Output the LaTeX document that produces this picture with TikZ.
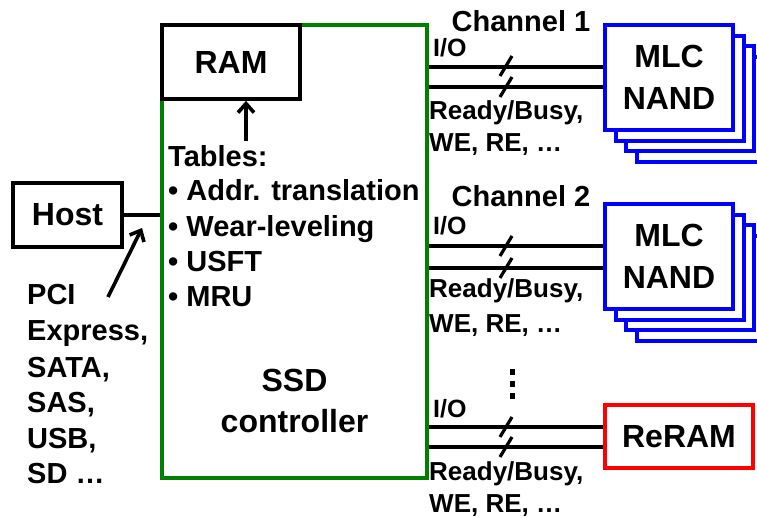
\documentclass[tikz,border=0pt]{standalone}
\usepackage{fontspec}
\setmainfont{Liberation Sans}
\usetikzlibrary{arrows.meta}
\definecolor{ssdgreen}{RGB}{0,128,0}
\definecolor{nandblue}{RGB}{0,0,255}
\definecolor{reramred}{RGB}{255,0,0}
\newcommand\bigfont{\fontsize{32}{41}\selectfont\bfseries}
\newcommand\nandfont{\fontsize{32}{42}\selectfont\bfseries}
\newcommand\midfont{\fontsize{29}{35}\selectfont\bfseries}
\newcommand\iofont{\fontsize{25}{32}\selectfont\bfseries}
\newcommand\sigfont{\fontsize{26}{32}\selectfont\bfseries}
\begin{document}
\begin{tikzpicture}[x=1pt,y=-1pt,
  box/.style={draw, line width=3.8pt, fill=white, inner sep=0pt, align=center},
  txt/.style={inner sep=0pt, anchor=base west},
  wire/.style={line width=3.8pt},
  arr/.style={line width=3.6pt, -{Straight Barb[length=9pt,width=16pt,line width=3.6pt]}},
  busmark/.pic={\draw[line width=3.2pt] (-6,10) -- (6,-10);},
  chip/.style={box, draw=nandblue, line width=4pt, minimum width=128, minimum height=105, font=\nandfont}]
\clip (0,0) rectangle (757,518);
\fill[white] (0,0) rectangle (757,518);

% controller and its RAM
\node[draw=ssdgreen, line width=3.3pt, minimum width=265, minimum height=453, inner sep=0pt] (ssd) at (294.5,251.5) {};
\node[box, minimum width=138, minimum height=74, font=\bigfont] (ram) at (231,62) {RAM};
\node[font=\bigfont, align=center, inner sep=0pt] (ssdlbl) at (294.5,401) {SSD\\controller};

% tables kept in RAM
\node[txt, font=\midfont] (tbl) at (168,167) {Tables:};
\node[txt, font=\midfont] (t1) at (168,201) {• Addr. translation};
\node[txt, font=\midfont] (t2) at (168,237) {• Wear-leveling};
\node[txt, font=\midfont] (t3) at (168,272) {• USFT};
\node[txt, font=\midfont] (t4) at (168,307) {• MRU};
\coordinate (tbltop) at (246,141);
\draw[arr] (tbltop) -- (tbltop |- ram.south);

% host side
\node[box, minimum width=109, minimum height=64, font=\bigfont] (host) at (67.5,215) {Host};
\draw[wire] (host.east) -- (ssd.west |- host.east);
\node[txt, font=\midfont] (if1) at (27,305) {PCI};
\node[txt, font=\midfont] (if2) at (27,340) {Express,};
\node[txt, font=\midfont] (if3) at (27,377) {SATA,};
\node[txt, font=\midfont] (if4) at (27,412) {SAS,};
\node[txt, font=\midfont] (if5) at (27,448) {USB,};
\node[txt, font=\midfont] (if6) at (27,483) {SD …};
\coordinate (iftail) at (108,297);
\coordinate (ifhead) at (142,228);
\draw[arr] (iftail) -- (ifhead);

% channel 1: stacked MLC NAND dies
\foreach \o in {32,21,11} {
  \node[chip] at (669+\o,77.5+\o) {};
}
\node[chip] (nand1) at (669,77.5) {MLC\\NAND};
\node[font=\midfont, inner sep=0pt, anchor=base] (ch1) at (521,32) {Channel 1};
\node[txt, font=\iofont] (io1) at (433,57) {I/O};
\draw[wire] (ssd.east |- 0,67) -- (nand1.west |- 0,67);
\draw[wire] (ssd.east |- 0,87) -- (nand1.west |- 0,87);
\pic at (506,66) {busmark};
\pic at (506,87) {busmark};
\node[txt, font=\sigfont] (rb1) at (429,120) {Ready/Busy,};
\node[txt, font=\sigfont] (we1) at (429,152) {WE, RE, …};

% channel 2: stacked MLC NAND dies
\foreach \o in {32,21,11} {
  \node[chip] at (669+\o,256.5+\o) {};
}
\node[chip] (nand2) at (669,256.5) {MLC\\NAND};
\node[font=\midfont, inner sep=0pt, anchor=base] (ch2) at (521,207) {Channel 2};
\node[txt, font=\iofont] (io2) at (433,235) {I/O};
\draw[wire] (ssd.east |- 0,246) -- (nand2.west |- 0,246);
\draw[wire] (ssd.east |- 0,268) -- (nand2.west |- 0,268);
\pic at (506,246) {busmark};
\pic at (506,268) {busmark};
\node[txt, font=\sigfont] (rb2) at (429,298) {Ready/Busy,};
\node[txt, font=\sigfont] (we2) at (429,332) {WE, RE, …};

% further channels, last one to ReRAM
\foreach \d in {372,384,396} {
  \fill (509.5,\d-3) rectangle (514.5,\d+3);
}
\node[box, draw=reramred, minimum width=148, minimum height=63, font=\bigfont] (reram) at (679,436.5) {ReRAM};
\node[txt, font=\iofont] (io3) at (433,417) {I/O};
\draw[wire] (ssd.east |- 0,427) -- (reram.west |- 0,427);
\draw[wire] (ssd.east |- 0,447) -- (reram.west |- 0,447);
\pic at (506,427) {busmark};
\pic at (506,447) {busmark};
\node[txt, font=\sigfont] (rb3) at (429,480) {Ready/Busy,};
\node[txt, font=\sigfont] (we3) at (429,512) {WE, RE, …};
\end{tikzpicture}
\end{document}
